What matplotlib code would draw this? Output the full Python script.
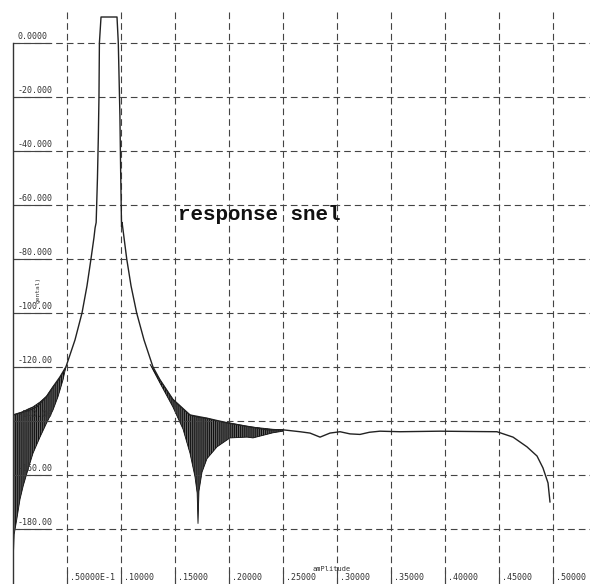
import matplotlib
matplotlib.use("Agg")
import matplotlib.pyplot as plt

plt.rcParams['hatch.linewidth'] = 0.8

# main trace (frequency, gain in dB)
freq = [0.0, 0.0065, 0.0157, 0.022, 0.031, 0.037, 0.0435, 0.049, 0.0574, 0.0639,
        0.0685, 0.0722, 0.0750, 0.0760, 0.0770, 0.0782, 0.0790, 0.0796, 0.0800,
        0.0815, 0.0963, 0.0975, 0.0990, 0.0997, 0.1005, 0.1010, 0.1053, 0.1093,
        0.1145, 0.1213, 0.1296, 0.1361, 0.148, 0.1639, 0.1796, 0.1981, 0.2167,
        0.2352, 0.25, 0.2657, 0.2750, 0.2843, 0.2935, 0.3028, 0.3120, 0.3213,
        0.3300, 0.3398, 0.3583, 0.3954, 0.4200, 0.4481, 0.463, 0.4759, 0.4852,
        0.4907, 0.4954, 0.4972]
gain = [-137.8, -137.0, -136.0, -134.8, -131.0, -127.4, -123.7, -120.0, -110.0, -100.0,
        -90.0, -80.0, -72.0, -68.5, -66.5, -50.0, -35.0, -20.0, 0.0,
        9.6, 9.6, 0.0, -27.0, -48.0, -68.0, -66.5, -80.0, -90.0,
        -100.0, -110.0, -120.0, -124.8, -132.0, -137.8, -139.0, -140.7, -142.0,
        -143.3, -143.3, -144.0, -144.5, -146.0, -144.5, -144.0, -144.8, -145.0,
        -144.2, -143.8, -144.0, -143.8, -143.9, -144.0, -146.0, -149.6, -153.0,
        -157.4, -163.0, -170.0]

# ripple band near dc
rip1_f = [0.0, 0.0005, 0.0011, 0.0034, 0.0065, 0.0095, 0.0139, 0.0185, 0.025,
          0.0312, 0.037, 0.0417, 0.0463, 0.049]
rip1_hi = [-137.8, -137.8, -137.7, -137.4, -137.0, -136.5, -135.6, -134.8, -133.0,
           -130.8, -127.4, -125.0, -122.0, -120.0]
rip1_lo = [-150.0, -188.5, -182.0, -176.7, -169.0, -164.0, -158.0, -152.0, -146.0,
           -140.7, -136.0, -131.0, -124.8, -120.0]

# ripple band after the passband
rip2_f = [0.1269, 0.1361, 0.148, 0.1574, 0.1639, 0.1685, 0.1705, 0.1713, 0.1722,
          0.175, 0.1796, 0.1889, 0.2009, 0.2167, 0.2222, 0.2407, 0.25]
rip2_hi = [-119.0, -124.8, -132.0, -135.5, -137.8, -138.3, -138.5, -138.6, -138.7,
           -138.8, -139.0, -140.0, -140.8, -142.0, -142.3, -143.1, -143.3]
rip2_lo = [-119.0, -126.0, -134.8, -143.0, -152.0, -160.7, -166.7, -178.0, -166.0,
           -159.0, -154.0, -149.6, -146.3, -146.0, -146.3, -144.4, -143.8]

xticks = [0.05, 0.10, 0.15, 0.20, 0.25, 0.30, 0.35, 0.40, 0.45, 0.50]
xlabels = ['.50000E-1', '.10000', '.15000', '.20000', '.25000', '.30000',
           '.35000', '.40000', '.45000', '.50000']
yticks = [0, -20, -40, -60, -80, -100, -120, -140, -160, -180]
ylabels = ['0.0000', '-20.000', '-40.000', '-60.000', '-80.000', '-100.00',
           '-120.00', '-140.00', '-160.00', '-180.00']

XMAX = 577 / 1080
YMIN, YMAX = -200.4, 15.9

fig = plt.figure(figsize=(5.9, 5.84), dpi=100)
ax = fig.add_axes([13 / 590, 0, 577 / 590, 1])
ax.set_xlim(0, XMAX)
ax.set_ylim(YMIN, YMAX)

for s in ['top', 'right', 'bottom']:
    ax.spines[s].set_visible(False)
ax.spines['left'].set_bounds(YMIN, 0)
ax.spines['left'].set_color('#333333')
ax.spines['left'].set_linewidth(1.0)

gridkw = dict(color='#444444', lw=0.8, linestyles=(0, (6, 3.6)))
ax.vlines(xticks, YMIN, 13, **gridkw)
ax.hlines(yticks, 0, XMAX, **gridkw)

ax.set_xticks(xticks)
ax.set_yticks(yticks)
ax.set_xticklabels([])
ax.set_yticklabels([])
ax.tick_params(axis='y', direction='in', length=26.5, width=0.8, color='#444444')
ax.tick_params(axis='x', direction='in', length=10, width=0.8, color='#444444')

# ripples
ax.fill_between(rip1_f, rip1_lo, rip1_hi, facecolor='#6a6a6a', edgecolor='#111111',
                hatch='|' * 8, lw=0.6)
ax.fill_between(rip2_f, rip2_lo, rip2_hi, facecolor='#6a6a6a', edgecolor='#111111',
                hatch='|' * 8, lw=0.6)
ax.plot(freq, gain, color='#222222', lw=1.0)

mono = 'DejaVu Sans Mono'
for v, lab in zip(yticks, ylabels):
    ax.text(0.0045, v + 0.8, lab, fontsize=6, family=mono, color='#333333',
            ha='left', va='bottom')
for v, lab in zip(xticks, xlabels):
    ax.text(v + 0.0028, -199.0, lab, fontsize=6, family=mono, color='#333333',
            ha='left', va='baseline')

ax.text(0.023, -91.5, 'gental)', fontsize=4.5, family=mono, color='#333333',
        rotation=90, ha='center', va='center')
ax.text(0.295, -195.5, 'amPlitude', fontsize=5, family=mono, color='#333333',
        ha='center', va='baseline')
ax.text(0.1528, -63.7, 'response snel', fontsize=15, family='Liberation Mono',
        weight='bold', color='#111111', ha='left', va='center')

fig.savefig('out.png', dpi=100)
